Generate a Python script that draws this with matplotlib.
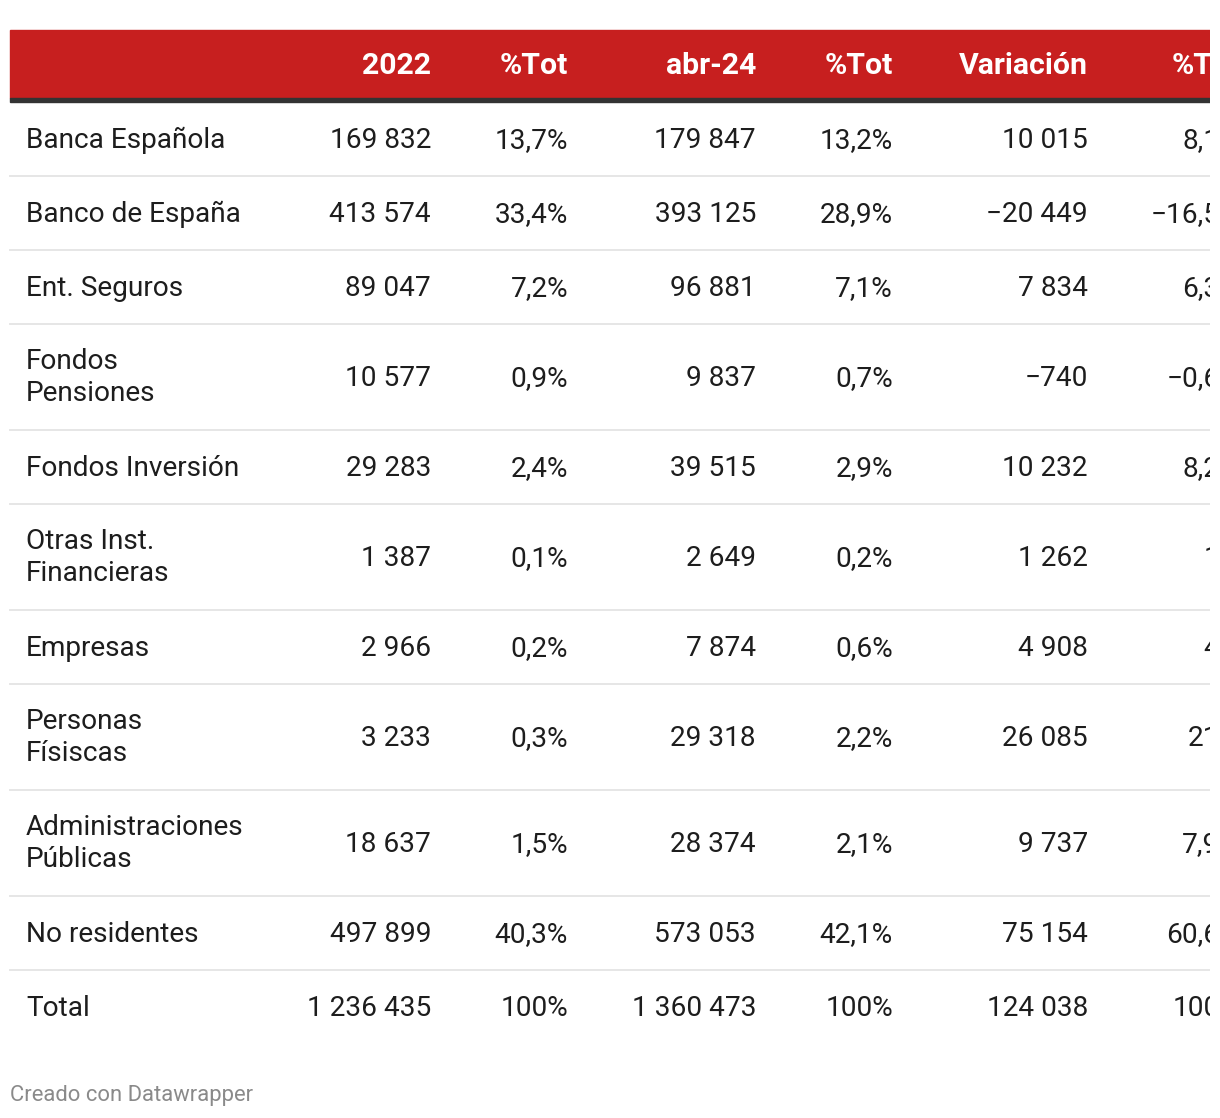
import matplotlib

matplotlib.use("Agg")
import matplotlib.pyplot as plt
from matplotlib.patches import Rectangle

# --- data -------------------------------------------------------------------
labels = ["Banca Española", "Banco de España", "Ent. Seguros", "Fondos\nPensiones",
          "Fondos Inversión", "Otras Inst.\nFinancieras", "Empresas",
          "Personas\nFísiscas", "Administraciones\nPúblicas", "No residentes", "Total"]
headers = ["2022", "%Tot", "abr-24", "%Tot", "Variación", "%Tot"]
v2022 = [169832, 413574, 89047, 10577, 29283, 1387, 2966, 3233, 18637, 497899, 1236435]
pct2022 = [13.7, 33.4, 7.2, 0.9, 2.4, 0.1, 0.2, 0.3, 1.5, 40.3, 100]
vabr24 = [179847, 393125, 96881, 9837, 39515, 2649, 7874, 29318, 28374, 573053, 1360473]
pctabr24 = [13.2, 28.9, 7.1, 0.7, 2.9, 0.2, 0.6, 2.2, 2.1, 42.1, 100]
variacion = [10015, -20449, 7834, -740, 10232, 1262, 4908, 26085, 9737, 75154, 124038]
pctvar = [8.1, -16.5, 6.3, -0.6, 8.2, 1.0, 4.0, 21.0, 7.9, 60.6, 100]

# --- style ------------------------------------------------------------------
RED = "#c71f1f"
DARK = "#333333"
INK = "#1d1d1d"
RULE = "#e6e6e6"
MUTED = "#8a8a8a"
FONT = ["Roboto", "DejaVu Sans"]
FS = 20.2
FS_HEAD = 21.8


def fmt_int(v):
    s = f"{abs(v):,}".replace(",", " ")
    return ("\u2212" if v < 0 else "") + s


def fmt_pct(v):
    # trailing ",0" is dropped (1% not 1,0%)
    s = f"{abs(v):.1f}".replace(".", ",")
    if s.endswith(",0"):
        s = s[:-2]
    return ("\u2212" if v < 0 else "") + s + "%"


W, H = 1220, 1118
fig = plt.figure(figsize=(W / 100, H / 100), dpi=100)
fig.patch.set_facecolor("white")
# axes stops at x=1210 so the last column gets cut, as in the original
ax = fig.add_axes([0, 0, 1210 / W, 1])
ax.set_xlim(0, 1210)
ax.set_ylim(H, 0)
ax.axis("off")

col_right = [431, 568, 756, 893, 1088, 1240]
label_x = 26

# header band
ax.add_patch(Rectangle((10, 30), 1200, 68, color=RED, zorder=1))
ax.add_patch(Rectangle((10, 98), 1200, 3.5, color=DARK, zorder=2))
for h, x in zip(headers, col_right):
    ax.text(x, 74, h, ha="right", va="baseline", color="white", fontsize=FS_HEAD,
            fontweight="bold", family=FONT, clip_on=True)

# rows
heights = [106 if "\n" in lab else 74 for lab in labels]
columns = [
    [fmt_int(v) for v in v2022],
    [fmt_pct(v) for v in pct2022],
    [fmt_int(v) for v in vabr24],
    [fmt_pct(v) for v in pctabr24],
    [fmt_int(v) for v in variacion],
    [fmt_pct(v) for v in pctvar],
]
y = 101.5
for i, lab in enumerate(labels):
    yc = y + heights[i] / 2
    base = yc + 9.5
    if "\n" in lab:
        ax.text(label_x, yc + 1, lab, ha="left", va="center", color=INK, fontsize=FS,
                family=FONT, linespacing=1.22)
    else:
        ax.text(label_x, base, lab, ha="left", va="baseline", color=INK, fontsize=FS,
                family=FONT)
    for col, x in zip(columns, col_right):
        ax.text(x, base, col[i], ha="right", va="baseline", color=INK, fontsize=FS,
                family=FONT, clip_on=True)
    y += heights[i]
    if i < len(labels) - 1:
        ax.plot([10, 1210], [y, y], color=RULE, linewidth=1.4, zorder=1)

ax.text(10, 1095, "Creado con Datawrapper", ha="left", va="center", color=MUTED,
        fontsize=15.8, family=FONT)

fig.savefig("out.png", dpi=100, facecolor="white")
